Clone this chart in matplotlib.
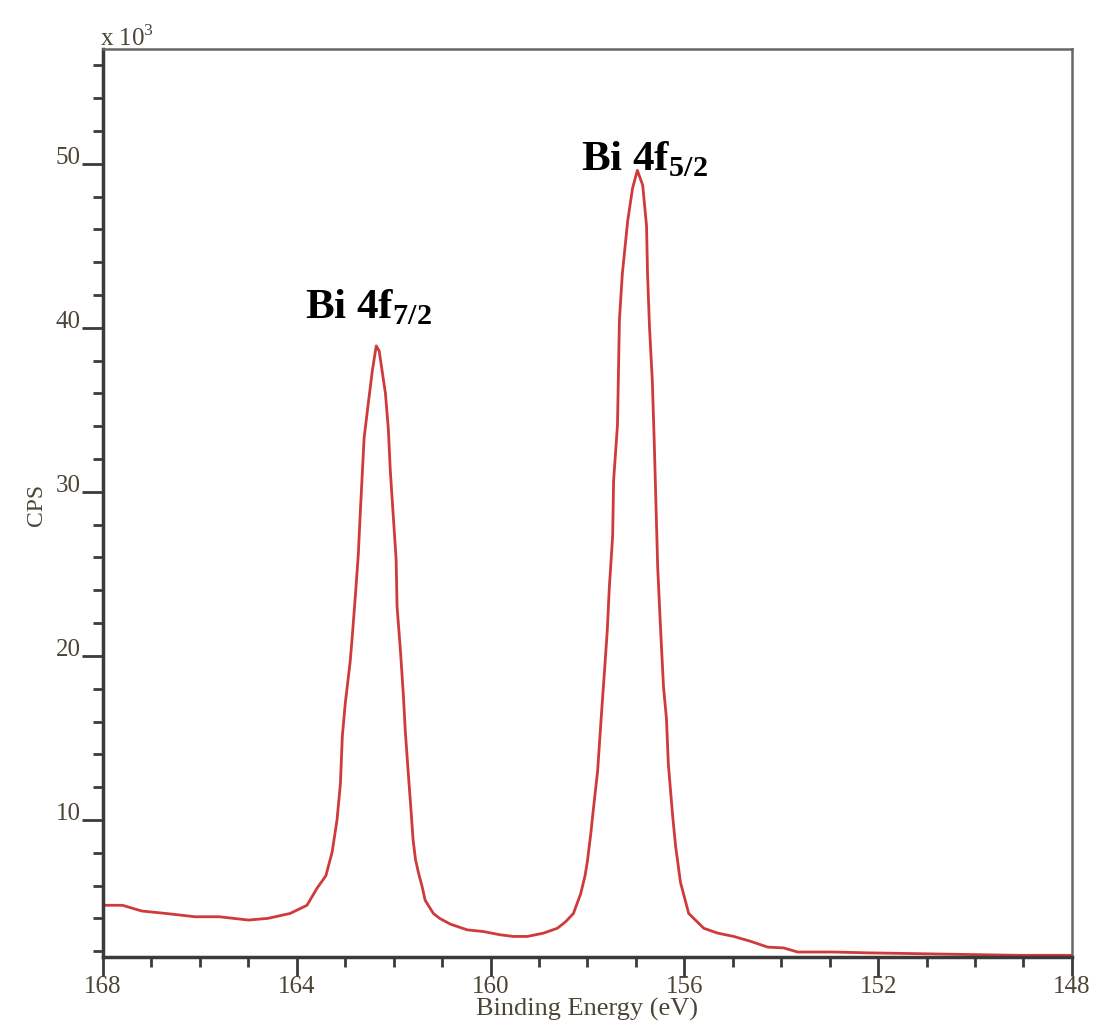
import matplotlib
matplotlib.use("Agg")
import matplotlib.pyplot as plt
from matplotlib.ticker import MultipleLocator

plt.rcParams['font.family'] = ['Liberation Serif', 'DejaVu Serif']
plt.rcParams['mathtext.fontset'] = 'custom'
plt.rcParams['mathtext.rm'] = 'Liberation Serif'
plt.rcParams['mathtext.bf'] = 'Liberation Serif:bold'

# binding energy (eV), high -> low, and counts (x 10^3)
energy = [168.0, 167.6, 167.2, 166.7, 166.1, 165.6, 165.0, 164.6, 164.14, 163.79,
          163.58, 163.40, 163.27, 163.17, 163.10, 163.06, 163.00, 162.90, 162.86, 162.79,
          162.73, 162.69, 162.65, 162.61, 162.52, 162.44, 162.36, 162.30, 162.24, 162.17,
          162.11, 162.07, 162.01, 161.95, 161.93, 161.86, 161.80, 161.76, 161.70, 161.64,
          161.60, 161.55, 161.49, 161.41, 161.35, 161.18, 161.05, 160.83, 160.48, 160.15,
          159.80, 159.53, 159.24, 158.91, 158.62, 158.45, 158.29, 158.14, 158.05, 158.00,
          157.93, 157.88, 157.79, 157.71, 157.65, 157.59, 157.55, 157.48, 157.46, 157.38,
          157.34, 157.28, 157.17, 157.07, 156.97, 156.86, 156.78, 156.76, 156.72, 156.66,
          156.62, 156.55, 156.49, 156.43, 156.37, 156.33, 156.24, 156.18, 156.08, 155.91,
          155.60, 155.31, 154.98, 154.63, 154.28, 153.95, 153.66, 152.92, 152.21, 151.18,
          150.15, 149.10, 148.00]
cps = [4.8, 4.8, 4.45, 4.3, 4.1, 4.1, 3.9, 4.0, 4.3, 4.8,
       5.85, 6.6, 8.05, 10.0, 12.2, 15.1, 17.1, 19.6, 21.0, 23.7,
       26.2, 28.7, 31.0, 33.3, 35.5, 37.4, 38.9, 38.6, 37.4, 36.0,
       33.8, 31.3, 28.6, 25.9, 23.0, 20.3, 17.6, 15.4, 12.9, 10.5,
       8.8, 7.6, 6.8, 5.9, 5.1, 4.3, 4.0, 3.65, 3.3, 3.2,
       3.0, 2.9, 2.9, 3.1, 3.4, 3.8, 4.3, 5.5, 6.6, 7.5,
       9.2, 10.6, 13.0, 16.5, 19.0, 21.6, 24.1, 27.3, 30.7, 34.1,
       40.5, 43.3, 46.5, 48.5, 49.6, 48.7, 46.2, 43.3, 40.1, 36.7,
       32.9, 25.4, 21.6, 18.1, 16.2, 13.4, 10.2, 8.4, 6.2, 4.3,
       3.4, 3.1, 2.9, 2.6, 2.25, 2.2, 1.95, 1.95, 1.9, 1.85,
       1.8, 1.75, 1.75]

peak_labels = [r'Bi 4f$_\mathbf{7/2}$', r'Bi 4f$_\mathbf{5/2}$']
label_pos = [(163.83, 40.6), (158.14, 49.6)]

text_col = '#4a4535'

fig = plt.figure(figsize=(10.96, 10.26), dpi=100)
ax = fig.add_axes([0.094, 0.0673, 0.884, 0.885])

ax.plot(energy, cps, color='#cf3a3a', lw=2)

for lab, (x, y) in zip(peak_labels, label_pos):
    ax.text(x, y, lab, fontsize=31, fontweight='bold', color='black',
            ha='left', va='baseline')

ax.set_xlim(168, 148)
ax.set_ylim(1.65, 57)
ax.xaxis.set_major_locator(MultipleLocator(4))
ax.xaxis.set_minor_locator(MultipleLocator(1))
ax.yaxis.set_major_locator(MultipleLocator(10))
ax.yaxis.set_minor_locator(MultipleLocator(2))

ax.tick_params(which='major', length=15, width=2, color='#3a3a3a',
               labelsize=18, labelcolor=text_col)
ax.tick_params(axis='x', which='major', length=14, pad=0)
ax.tick_params(axis='y', which='major', pad=1)
ax.tick_params(which='minor', length=7, width=2, color='#3a3a3a')
for lab in ax.get_yticklabels():
    lab.set_verticalalignment('baseline')

for side in ['left', 'bottom']:
    ax.spines[side].set_linewidth(2.5)
    ax.spines[side].set_color('#3a3a3a')
for side in ['top', 'right']:
    ax.spines[side].set_linewidth(1.8)
    ax.spines[side].set_color('#666666')

ax.set_xlabel('Binding Energy (eV)', fontsize=19, color=text_col, labelpad=0)
fig.text(0.033, 0.508, 'CPS', rotation=90, fontsize=17, color=text_col,
         ha='center', va='center')
fig.text(0.091, 0.955, r'x 10$^3$', fontsize=18, color=text_col,
         ha='left', va='baseline')

fig.savefig('out.png', dpi=100)
